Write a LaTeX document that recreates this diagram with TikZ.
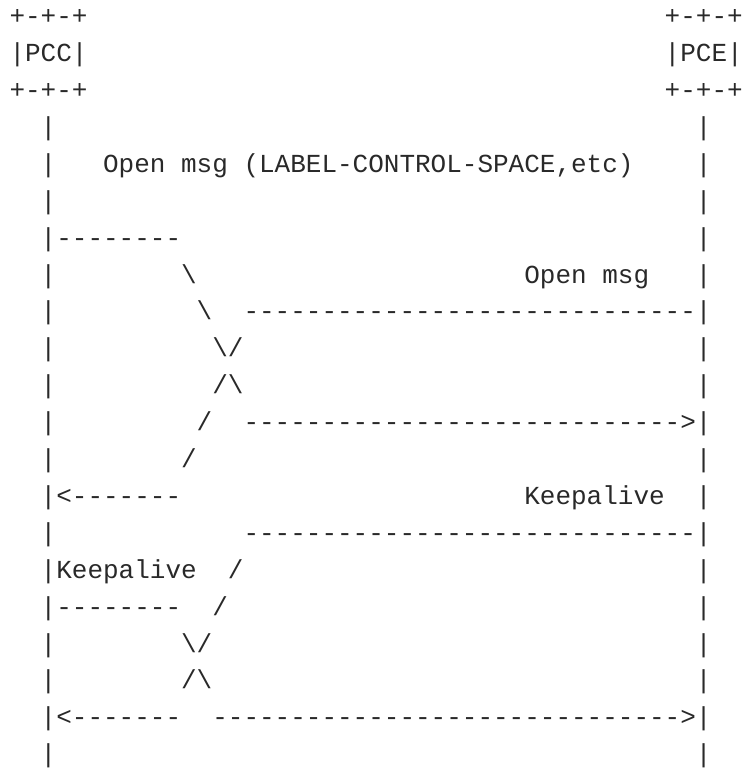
\documentclass[tikz,border=0pt]{standalone}
\usepackage{fontspec}
\setmonofont{Liberation Mono}
\definecolor{ink}{rgb}{0.16,0.16,0.16}
\newcommand\seg[4]{\node[txt] (#1) at ({9.5+#3*15.6},{-172.3-(#2-5)*36.9}) {#4};}
\newcommand\bs{\textbackslash}
\begin{document}
\begin{tikzpicture}[x=1pt,y=1pt,
  txt/.style={anchor=base west,inner sep=0pt,outer sep=0pt,text=ink,
    font=\ttfamily\fontsize{26}{30}\selectfont}]
\useasboundingbox (0,0) rectangle (742,-768);
% boxes
\seg{b1l}{1}{0}{+-+-+}\seg{b1r}{1}{42}{+-+-+}
\seg{b2l}{2}{0}{|PCC|}\seg{b2r}{2}{42}{|PCE|}
\seg{b3l}{3}{0}{+-+-+}\seg{b3r}{3}{42}{+-+-+}
% line 4
\seg{l4a}{4}{2}{|}\seg{l4b}{4}{44}{|}
% line 5
\seg{l5a}{5}{2}{|}\seg{l5t}{5}{6}{Open msg (LABEL-CONTROL-SPACE,etc)}\seg{l5b}{5}{44}{|}
% line 6
\seg{l6a}{6}{2}{|}\seg{l6b}{6}{44}{|}
% line 7
\seg{l7a}{7}{2}{|--------}\seg{l7b}{7}{44}{|}
% line 8
\seg{l8a}{8}{2}{|}\seg{l8s}{8}{11}{\bs}\seg{l8t}{8}{33}{Open msg}\seg{l8b}{8}{44}{|}
% line 9
\seg{l9a}{9}{2}{|}\seg{l9s}{9}{12}{\bs}\seg{l9d}{9}{15}{-----------------------------|}
% line 10
\seg{l10a}{10}{2}{|}\seg{l10s}{10}{13}{\bs/}\seg{l10b}{10}{44}{|}
% line 11
\seg{l11a}{11}{2}{|}\seg{l11s}{11}{13}{/\bs}\seg{l11b}{11}{44}{|}
% line 12
\seg{l12a}{12}{2}{|}\seg{l12s}{12}{12}{/}\seg{l12d}{12}{15}{---------------------------->|}
% line 13
\seg{l13a}{13}{2}{|}\seg{l13s}{13}{11}{/}\seg{l13b}{13}{44}{|}
% line 14
\seg{l14a}{14}{2}{|<-------}\seg{l14t}{14}{33}{Keepalive}\seg{l14b}{14}{44}{|}
% line 15
\seg{l15a}{15}{2}{|}\seg{l15d}{15}{15}{-----------------------------|}
% line 16
\seg{l16a}{16}{2}{|Keepalive}\seg{l16s}{16}{14}{/}\seg{l16b}{16}{44}{|}
% line 17
\seg{l17a}{17}{2}{|--------}\seg{l17s}{17}{13}{/}\seg{l17b}{17}{44}{|}
% line 18
\seg{l18a}{18}{2}{|}\seg{l18s}{18}{11}{\bs/}\seg{l18b}{18}{44}{|}
% line 19
\seg{l19a}{19}{2}{|}\seg{l19s}{19}{11}{/\bs}\seg{l19b}{19}{44}{|}
% line 20
\seg{l20a}{20}{2}{|<-------}\seg{l20d}{20}{13}{------------------------------>|}
% line 21
\seg{l21a}{21}{2}{|}\seg{l21b}{21}{44}{|}
\end{tikzpicture}
\end{document}
